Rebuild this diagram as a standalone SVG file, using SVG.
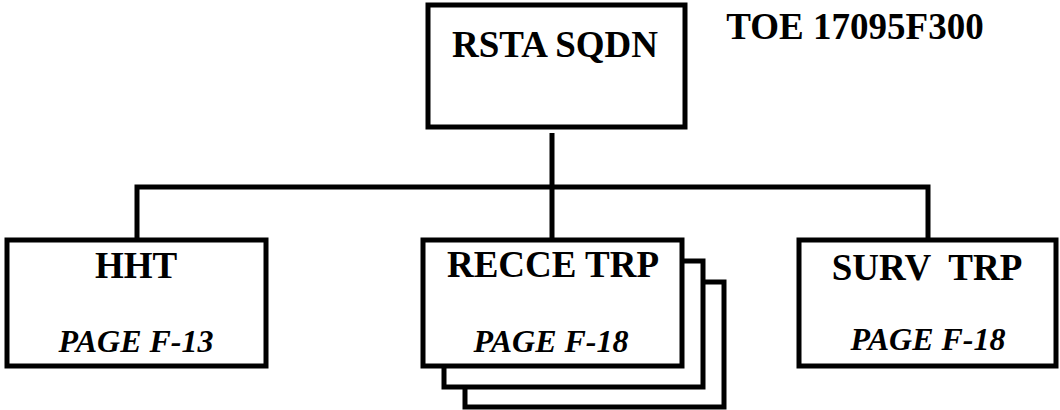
<svg xmlns="http://www.w3.org/2000/svg" width="1060" height="410" viewBox="0 0 1060 410">
<style>
.box{fill:#fff;stroke:#000;stroke-width:5}
.ln{fill:none;stroke:#000;stroke-width:5}
.t{font-family:"Liberation Serif","Times New Roman",serif;font-weight:bold;font-size:37px;fill:#000;text-anchor:middle;white-space:pre}
.p{font-family:"Liberation Serif","Times New Roman",serif;font-weight:bold;font-style:italic;font-size:32px;fill:#000;text-anchor:middle}
</style>
<rect width="1060" height="410" fill="#fff"/>
<g id="connectors">
<path class="ln" d="M552 133 V187 M137 240 V187 H928 V240 M552 187 V240"/>
</g>
<g id="rsta">
<rect class="box" x="428" y="5" width="257" height="122"/>
<text class="t" x="555" y="57">RSTA SQDN</text>
</g>
<text id="toe" class="t" x="855" y="39">TOE 17095F300</text>
<g id="hht">
<rect class="box" x="7" y="240" width="259" height="126"/>
<text class="t" x="136" y="278">HHT</text>
<text class="p" x="136" y="352">PAGE F-13</text>
</g>
<g id="recce">
<rect class="box" x="465" y="282" width="259" height="125"/>
<rect class="box" x="444" y="261" width="259" height="126"/>
<rect class="box" x="423" y="240" width="259" height="126"/>
<text class="t" x="553" y="277">RECCE TRP</text>
<text class="p" x="551" y="352">PAGE F-18</text>
</g>
<g id="surv">
<rect class="box" x="799" y="240" width="257" height="126"/>
<text class="t" x="927" y="280" xml:space="preserve">SURV  TRP</text>
<text class="p" x="928" y="350">PAGE F-18</text>
</g>
</svg>
